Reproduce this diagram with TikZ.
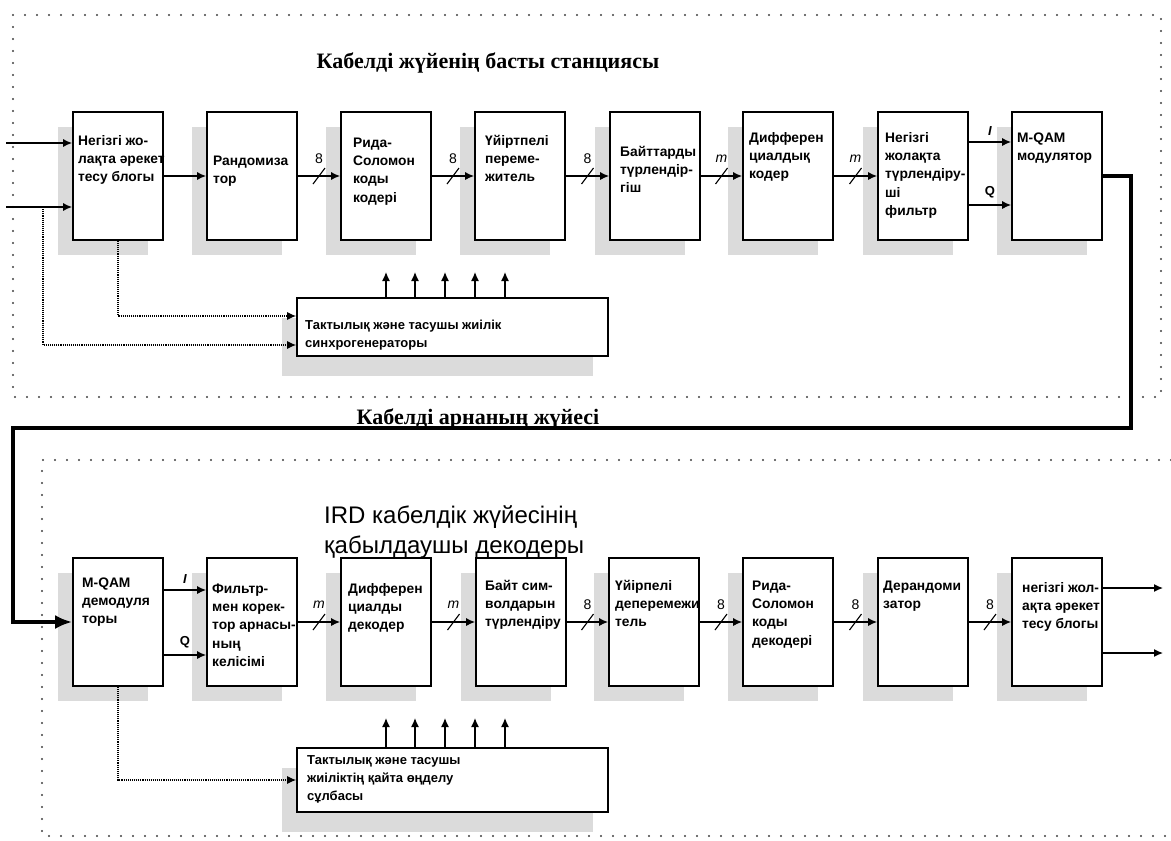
\documentclass[tikz,border=0pt]{standalone}
\usepackage{fontspec}
\setmainfont{Liberation Sans}
\newfontfamily\headserif{Liberation Serif}
\usetikzlibrary{arrows.meta,shadows}

% multi-line text whose baseline is the first line
\newcommand\boxlines[1]{\begin{tabular}[t]{@{}l@{}}#1\end{tabular}}

% block: name, centre x, centre y, text x offset, first baseline y, text
\newcommand\block[6]{%
  \node[blk] (#1) at (#2,#3) {};
  \node[blktext] (#1-text) at (#2-45+#4,#5) {\boxlines{#6}};
}

% bus connection with slash mark and width label
\newcommand\bus[3]{%
  \draw[arr] (#1) -- coordinate[pos=.5] (#1-#2) (#2);
  \draw[line width=1.1pt] ([shift={(-6pt,-8pt)}]#1-#2) -- ([shift={(6pt,8pt)}]#1-#2);
  \node[buslbl] (#1-#2-lbl) at ([shift={(0pt,17pt)}]#1-#2) {#3};
}

\begin{document}
\begin{tikzpicture}[x=1pt,y=-1pt,
  frame/.style={line width=2.3pt, line cap=round, dash pattern=on 0pt off 12pt, draw=black!75},
  blk/.style={draw, line width=1.7pt, fill=white, minimum width=90pt, minimum height=128pt,
    inner sep=0pt, drop shadow={shadow xshift=-15pt, shadow yshift=-15pt, fill=gray!28, opacity=1}},
  syncbox/.style={draw, line width=1.7pt, fill=white, minimum width=311pt, inner sep=0pt,
    drop shadow={shadow xshift=-15pt, shadow yshift=-20pt, fill=gray!28, opacity=1}},
  blktext/.style={anchor=base west, inner sep=0pt, font=\fontsize{13.8}{18.4}\selectfont\bfseries},
  synctext/.style={anchor=base west, inner sep=0pt, font=\fontsize{13}{18.4}\selectfont\bfseries},
  buslbl/.style={inner sep=0pt, font=\fontsize{14}{16}\selectfont},
  iqlbl/.style={inner sep=0pt, font=\fontsize{13}{15}\selectfont\bfseries},
  arr/.style={line width=1.3pt, -{Latex[length=9pt,width=8pt]}},
  dotc/.style={line width=1.1pt, densely dotted, -{Latex[length=9pt,width=8pt]}},
  chan/.style={line width=3.5pt, -{Latex[length=17pt,width=14pt]}},
  head/.style={inner sep=0pt, font=\headserif\fontsize{22}{26}\selectfont\bfseries},
  ird/.style={anchor=base west, inner sep=0pt, font=\fontsize{24}{30}\selectfont}
]
\useasboundingbox (0,0) rectangle (1171,841);

% dotted frames of the two subsystems
\draw[frame] (13,15) rectangle (1161,397);
\draw[frame] (1171,460) -- (42,460) -- (42,836) -- (1171,836);

% headings
\node[head] (headend) at (488,63) {Кабелді жүйенің басты станциясы};
\node[head] (channel) at (478,419) {Кабелді арнаның жүйесі};
\node[ird] (receiver) at (324,523) {\boxlines{IRD кабелдік жүйесінің\\қабылдаушы декодеры}};

% head-end chain
\block{t1}{118}{176}{5}{145}{Негізгі жо-\\лақта әрекет\\тесу блогы}
\block{t2}{252}{176}{6}{165}{Рандомиза\\тор}
\block{t3}{386}{176}{12}{147}{Рида-\\Соломон\\коды\\кодері}
\block{t4}{520}{176}{10}{145}{Үйіртпелі\\переме-\\житель}
\block{t5}{655}{176}{10}{156}{Байттарды\\түрлендір-\\гіш}
\block{t6}{788}{176}{6}{142}{Дифферен\\циалдық\\кодер}
\block{t7}{923}{176}{7}{142}{Негізгі\\жолақта\\түрлендіру-\\ші\\фильтр}
\block{t8}{1057}{176}{5}{142}{M-QAM\\модулятор}

% receiver chain
\block{b1}{118}{622}{9}{587}{M-QAM\\демодуля\\торы}
\block{b2}{252}{622}{5}{593}{Фильтр-\\мен корек-\\тор арнасы-\\ның\\келісімі}
\block{b3}{386}{622}{7}{593}{Дифферен\\циалды\\декодер}
\block{b4}{521}{622}{9}{590}{Байт сим-\\волдарын\\түрлендіру}
\block{b5}{654}{622}{6}{590}{Үйірпелі\\деперемежи\\тель}
\block{b6}{788}{622}{9}{590}{Рида-\\Соломон\\коды\\декодері}
\block{b7}{923}{622}{5}{590}{Дерандоми\\затор}
\block{b8}{1057}{622}{10}{592}{негізгі жол-\\ақта әрекет\\тесу блогы}

% clock and carrier synchronisation
\node[syncbox, minimum height=58pt] (sync1) at (452.5,327) {};
\node[synctext] (sync1-text) at (305,329) {\boxlines{Тактылық және тасушы жиілік\\синхрогенераторы}};
\node[syncbox, minimum height=64pt] (sync2) at (452.5,780) {};
\node[synctext] (sync2-text) at (307,764) {\boxlines{Тактылық және тасушы\\жиіліктің қайта өңделу\\сұлбасы}};

% inputs of the head-end
\coordinate (in1) at (6,143);
\coordinate (in2) at (6,207);
\coordinate (tap) at (43,207);
\draw[arr] (in1) -- (in1 -| t1.west);
\draw[arr] (in2) -- (in2 -| t1.west);

% head-end connections
\draw[arr] (t1) -- (t2);
\bus{t2}{t3}{8}
\bus{t3}{t4}{8}
\bus{t4}{t5}{8}
\bus{t5}{t6}{\itshape m}
\bus{t6}{t7}{\itshape m}
\draw[arr] ([yshift=34pt]t7.east) -- node[iqlbl, above=6pt] (tI) {\itshape I} ([yshift=34pt]t8.west);
\draw[arr] ([yshift=-29pt]t7.east) -- node[iqlbl, above=6pt] (tQ) {Q} ([yshift=-29pt]t8.west);

% synchroniser feeds and outputs
\draw[dotc] (t1.south) |- ([yshift=11pt]sync1.west);
\draw[dotc] (tap) |- ([yshift=-18pt]sync1.west);
\foreach \x in {386,415,445,475,505} {
  \coordinate (u\x) at (\x,272);
  \draw[arr] (u\x |- sync1.north) -- (u\x);
}

% cable channel
\coordinate (c1) at (1131,428);
\coordinate (c2) at (13,428);
\draw[chan] (t8.east) -| (c1) -- (c2) |- (b1.west);

% receiver connections
\draw[arr] ([yshift=32pt]b1.east) -- node[iqlbl, above=6pt] (bI) {\itshape I} ([yshift=32pt]b2.west);
\draw[arr] ([yshift=-33pt]b1.east) -- node[iqlbl, above=6pt] (bQ) {Q} ([yshift=-33pt]b2.west);
\bus{b2}{b3}{\itshape m}
\bus{b3}{b4}{\itshape m}
\bus{b4}{b5}{8}
\bus{b5}{b6}{8}
\bus{b6}{b7}{8}
\bus{b7}{b8}{8}
\coordinate (out1) at (1163,588);
\coordinate (out2) at (1163,653);
\draw[arr] (b8.east |- out1) -- (out1);
\draw[arr] (b8.east |- out2) -- (out2);

\draw[dotc] (b1.south) |- (sync2.west);
\foreach \x in {386,415,445,475,505} {
  \coordinate (v\x) at (\x,718);
  \draw[arr] (v\x |- sync2.north) -- (v\x);
}
\end{tikzpicture}
\end{document}
